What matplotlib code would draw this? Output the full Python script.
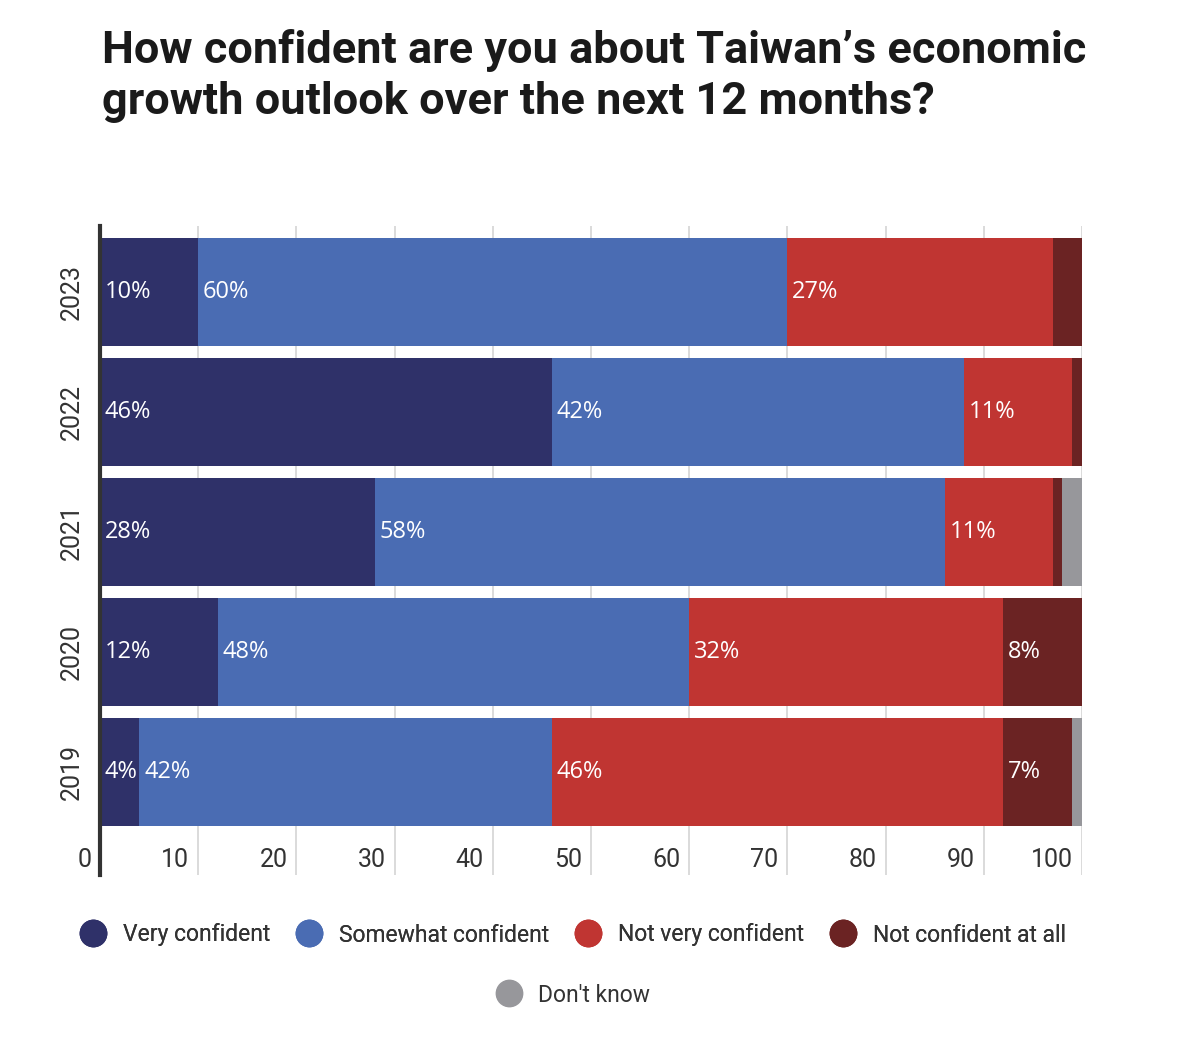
import matplotlib.pyplot as plt
from matplotlib.lines import Line2D

plt.rcParams['font.family'] = ['Roboto', 'DejaVu Sans']

years = ["2019", "2020", "2021", "2022", "2023"]
categories = ["Very confident", "Somewhat confident", "Not very confident",
              "Not confident at all", "Don't know"]
very = [4, 12, 28, 46, 10]
somewhat = [42, 48, 58, 42, 60]
not_very = [46, 32, 11, 11, 27]
not_at_all = [7, 8, 1, 1, 3]
dont_know = [1, 0, 2, 0, 0]
series = [very, somewhat, not_very, not_at_all, dont_know]
colors = ["#2f3169", "#4a6cb3", "#c03532", "#6b2323", "#97979b"]
xticks = [0, 10, 20, 30, 40, 50, 60, 70, 80, 90, 100]

fig = plt.figure(figsize=(12, 10.48), dpi=100)
ax = fig.add_axes([100 / 1200, 1 - 875 / 1048, 982 / 1200, 649 / 1048])

ypos = list(range(len(years)))
left = [0] * len(years)
for vals, col in zip(series, colors):
    ax.barh(ypos, vals, left=left, height=0.9, color=col, zorder=2)
    for i, v in enumerate(vals):
        if v >= 4:
            ax.text(left[i] + 0.5, ypos[i], f"{v}%", color="white",
                    fontsize=17, va="center", ha="left", zorder=3,
                    family=["Open Sans", "DejaVu Sans"])
    left = [a + b for a, b in zip(left, vals)]

ax.set_xlim(0, 100)
ax.set_ylim(-0.858, 4.55)
for t in xticks[1:]:
    ax.axvline(t, color="#d4d4d4", lw=1.2, zorder=1)
for t in xticks:
    ax.text(t - 0.9, -0.73, str(t), ha="right", va="center", fontsize=18,
            color="#333333")
for y, lab in zip(ypos, years):
    ax.text(-2.9, y, lab, rotation=90, ha="center", va="center",
            fontsize=18, color="#333333", clip_on=False)

ax.set_xticks([])
ax.set_yticks([])
for s in ["top", "right", "bottom"]:
    ax.spines[s].set_visible(False)
ax.spines["left"].set_color("#333333")
ax.spines["left"].set_linewidth(3)
ax.spines["left"].set_zorder(4)

fig.text(102 / 1200, 1 - 50 / 1048, "How confident are you about Taiwan’s economic",
         fontsize=32.5, fontweight="bold", color="#1a1a1a", va="center")
fig.text(102 / 1200, 1 - 102 / 1048, "growth outlook over the next 12 months?",
         fontsize=32.5, fontweight="bold", color="#1a1a1a", va="center")

handles = [Line2D([], [], marker="o", ls="", markersize=19, color=c)
           for c in colors]
leg1 = fig.legend(handles[:4], categories[:4], loc="center",
                  bbox_to_anchor=(568 / 1200, 1 - 935 / 1048), ncol=4,
                  frameon=False, fontsize=16.5, handletextpad=0.3,
                  columnspacing=0.7, labelcolor="#333333")
fig.legend(handles[4:], categories[4:], loc="center",
           bbox_to_anchor=(568 / 1200, 1 - 995 / 1048), ncol=1,
           frameon=False, fontsize=16.5, handletextpad=0.3,
           labelcolor="#333333")
fig.add_artist(leg1)

fig.savefig("out.png", dpi=100)
